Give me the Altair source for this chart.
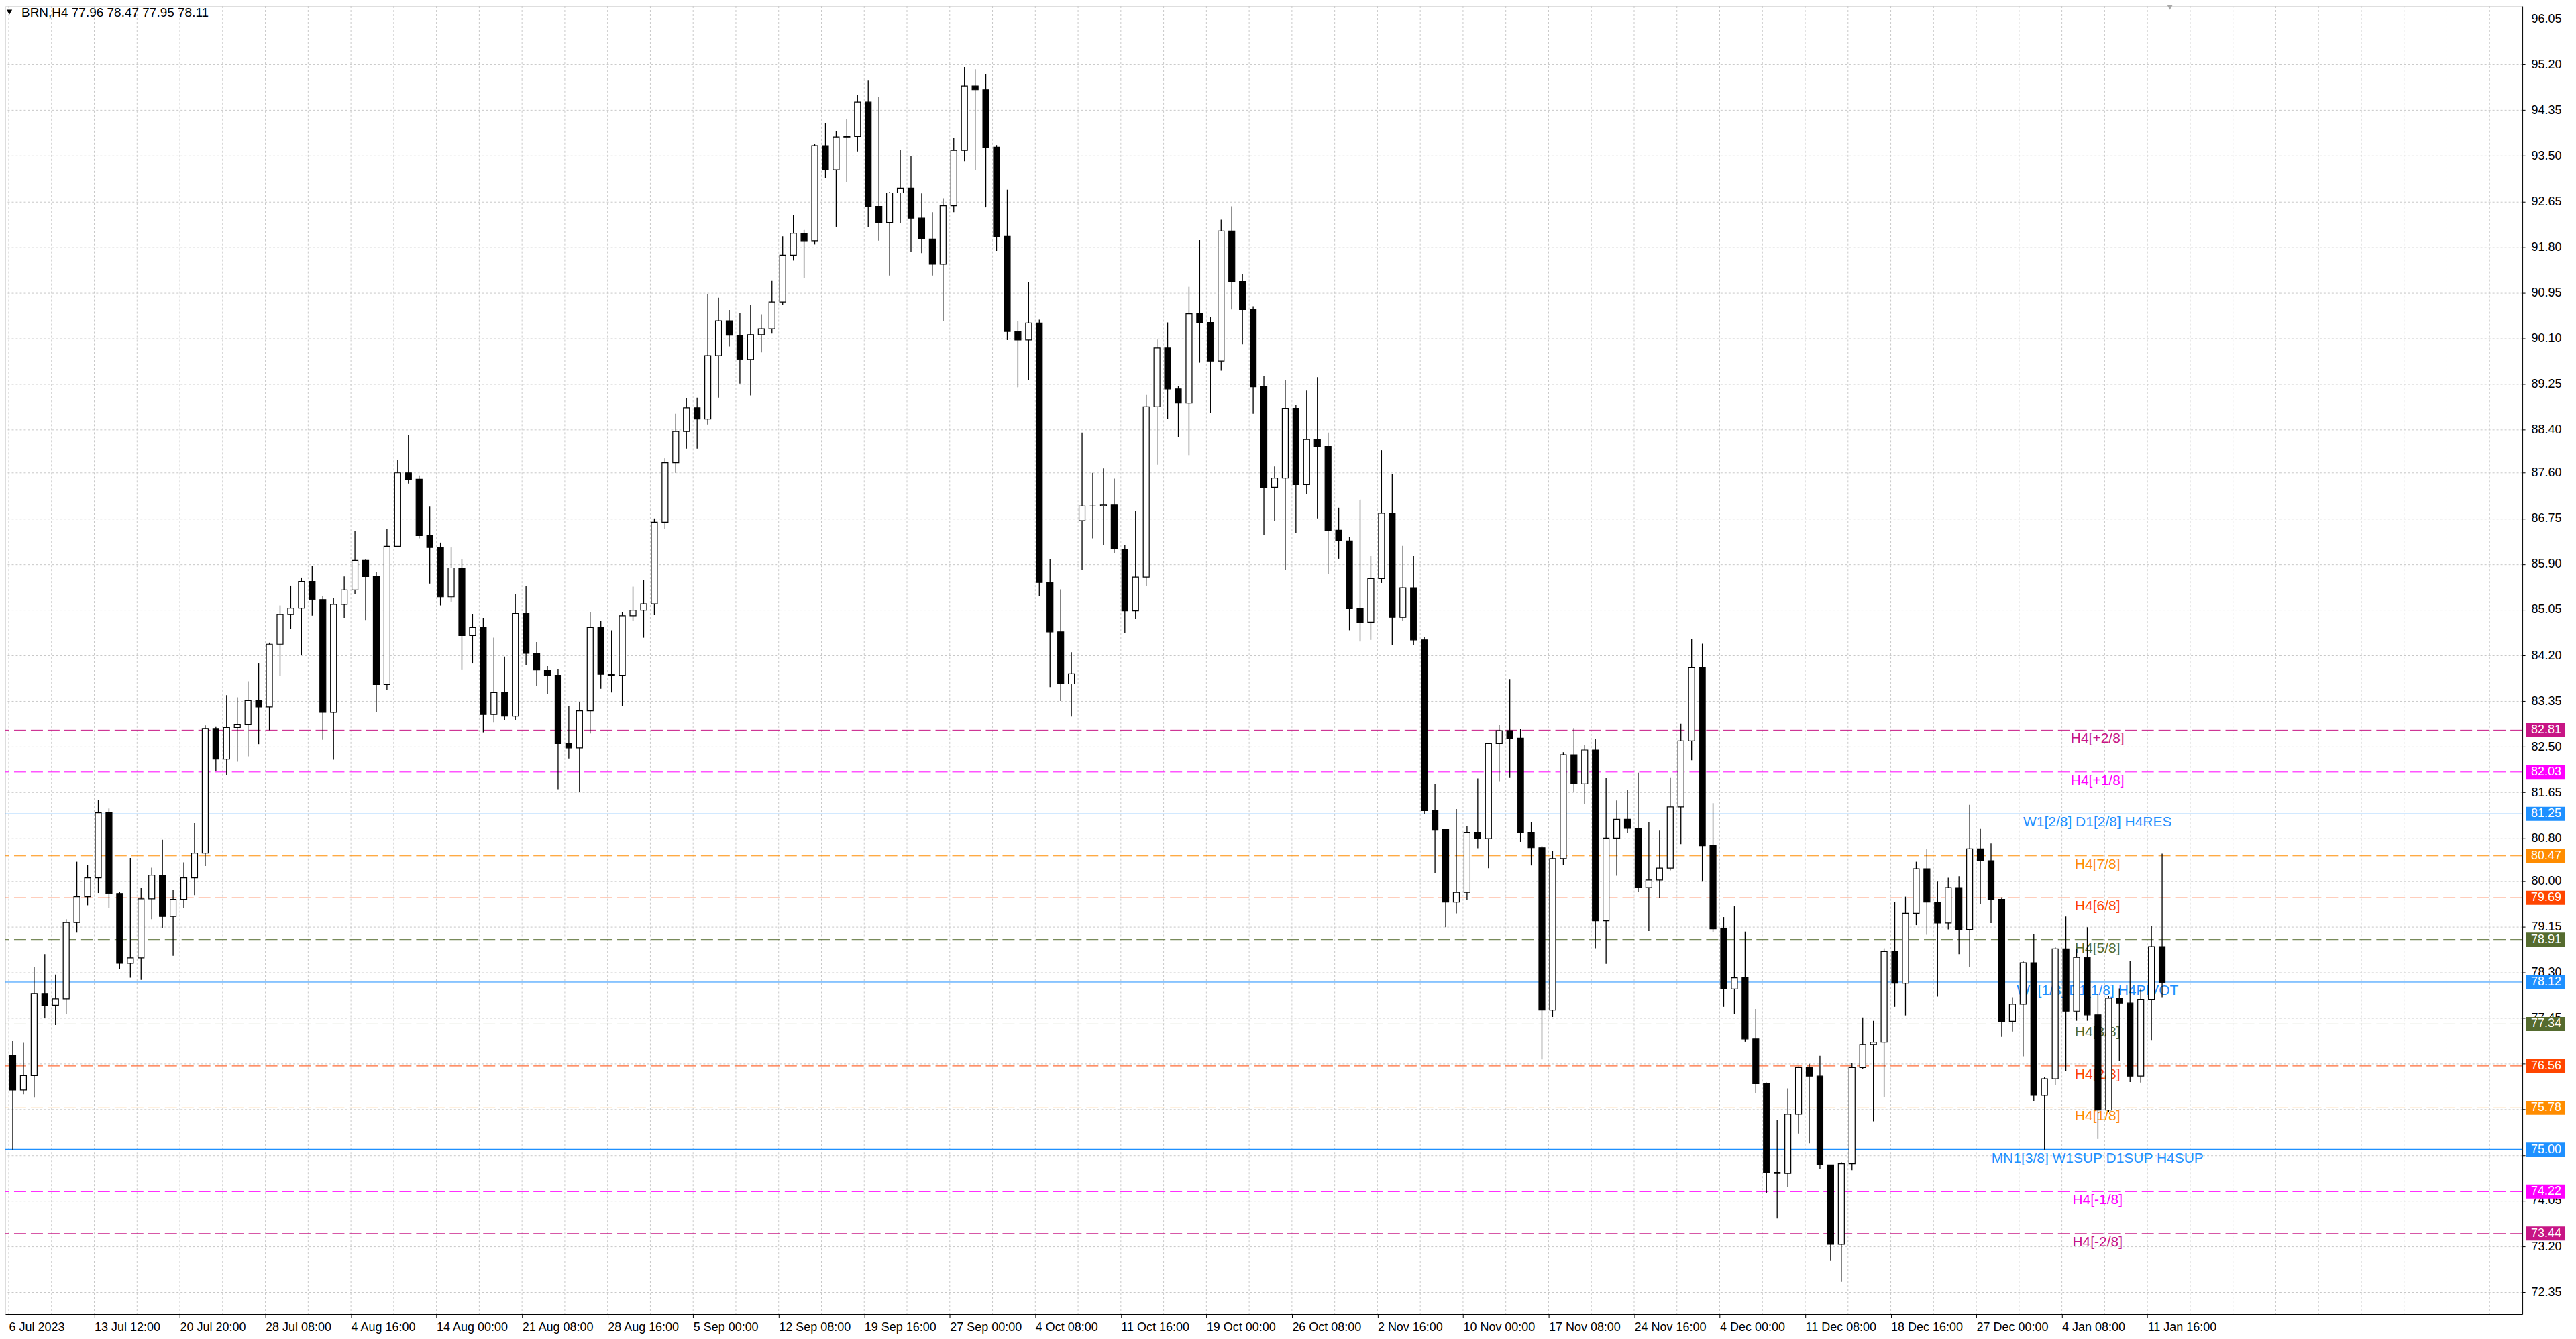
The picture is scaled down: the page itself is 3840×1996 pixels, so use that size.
import json
import altair as alt
import pandas as pd

# ---------------- data (one candle = 4 H4 bars) ----------------
opens = [76.75, 76.11, 76.38, 77.91, 77.69, 77.81, 79.23, 79.71, 80.06, 81.27,
         79.77, 78.47, 78.57, 79.67, 80.11, 79.34, 79.66, 80.06, 80.52, 82.84,
         82.27, 82.86, 82.92, 83.36, 83.24, 84.41, 84.96, 85.08, 85.58, 85.24,
         83.14, 85.15, 85.42, 85.97, 85.67, 83.66, 86.23, 87.60, 87.48, 86.43,
         86.21, 85.29, 85.83, 84.57, 84.72, 83.10, 83.51, 83.07, 84.98, 84.24,
         83.93, 83.83, 82.56, 82.48, 83.17, 84.72, 83.85, 83.83, 84.94, 85.04,
         85.16, 86.68, 87.79, 88.37, 88.81, 88.60, 89.78, 90.43, 90.16, 89.71,
         90.17, 90.28, 90.78, 91.65, 92.06, 91.92, 93.69, 93.24, 93.85, 93.86,
         94.50, 92.56, 92.26, 92.81, 92.90, 92.34, 91.95, 91.48, 92.57, 93.60,
         94.80, 94.73, 93.66, 92.00, 90.23, 90.07, 90.39, 85.56, 84.64, 83.67,
         86.71, 86.98, 86.98, 87.00, 86.18, 85.03, 85.66, 88.83, 89.92, 89.16,
         88.90, 90.56, 90.40, 89.68, 92.10, 91.16, 90.64, 89.20, 87.33, 87.50,
         88.80, 87.38, 88.22, 88.09, 86.53, 86.33, 85.07, 84.82, 85.63, 86.85,
         84.91, 85.46, 84.49, 81.31, 80.96, 79.61, 79.79, 80.91, 80.79, 82.56,
         82.80, 82.66, 80.91, 80.62, 77.60, 80.42, 82.35, 81.81, 82.44, 79.26,
         80.80, 81.15, 80.98, 79.88, 80.02, 80.24, 81.38, 82.61, 83.97, 80.66,
         79.11, 77.99, 78.20, 77.06, 76.23, 74.58, 74.56, 75.66, 76.53, 76.37,
         74.72, 73.24, 74.74, 76.53, 76.96, 77.00, 78.69, 78.10, 79.40, 80.23,
         79.61, 79.22, 79.88, 79.10, 80.60, 80.38, 79.66, 77.39, 77.71, 78.48,
         76.01, 76.32, 78.74, 77.58, 78.58, 77.51, 75.74, 77.82, 77.73, 76.37,
         77.80, 78.78]
highs = [77.02, 76.99, 78.40, 78.64, 78.26, 79.29, 80.36, 80.30, 81.51, 81.35,
         79.80, 80.43, 79.88, 80.25, 80.77, 79.83, 80.35, 81.08, 82.90, 82.88,
         83.46, 83.42, 83.72, 84.05, 84.44, 85.13, 85.50, 85.65, 85.86, 85.30,
         85.27, 85.67, 86.52, 86.00, 85.75, 86.55, 87.84, 88.30, 87.55, 86.97,
         86.30, 86.21, 86.00, 84.97, 84.90, 84.53, 84.18, 85.35, 85.50, 84.45,
         84.00, 83.95, 83.26, 83.34, 85.00, 84.85, 84.67, 85.00, 85.48, 85.61,
         86.75, 87.87, 88.70, 88.99, 89.00, 90.93, 90.86, 90.63, 90.57, 90.73,
         90.55, 91.17, 92.00, 92.40, 92.12, 93.72, 94.11, 93.96, 94.18, 94.63,
         94.91, 94.60, 92.83, 93.61, 93.50, 92.80, 92.45, 92.71, 93.83, 95.15,
         95.11, 95.02, 93.70, 92.87, 90.43, 91.15, 90.45, 86.00, 85.43, 84.26,
         88.35, 87.60, 87.68, 87.49, 86.25, 86.89, 89.05, 90.08, 90.40, 89.22,
         91.06, 91.93, 90.50, 92.31, 92.56, 91.30, 90.70, 89.40, 87.72, 89.32,
         88.87, 89.13, 89.38, 88.35, 86.95, 86.40, 87.10, 86.05, 88.02, 87.58,
         86.24, 86.05, 84.55, 81.81, 80.96, 81.34, 81.03, 81.91, 82.57, 82.91,
         83.76, 82.83, 81.10, 80.65, 80.56, 82.40, 82.85, 82.53, 82.65, 81.92,
         81.50, 81.70, 82.02, 81.10, 80.95, 81.93, 82.93, 84.50, 84.42, 81.45,
         79.33, 79.53, 79.06, 77.62, 76.25, 75.55, 76.14, 76.55, 76.60, 76.75,
         74.72, 74.77, 76.61, 77.46, 77.40, 78.75, 79.61, 79.71, 80.36, 80.60,
         79.99, 80.06, 80.09, 81.42, 80.97, 80.70, 79.70, 77.84, 78.52, 79.01,
         76.35, 78.78, 79.34, 78.74, 79.14, 77.90, 77.87, 78.00, 78.52, 78.00,
         79.16, 80.51]
lows = [75.00, 76.03, 75.97, 77.45, 77.32, 77.53, 79.04, 79.55, 79.78, 79.50,
        78.36, 78.20, 78.16, 79.29, 79.12, 78.61, 79.50, 79.74, 80.28, 82.05,
        81.97, 82.22, 82.32, 82.55, 82.81, 83.82, 84.70, 84.21, 84.94, 82.63,
        82.26, 84.90, 85.35, 84.86, 83.15, 83.55, 86.23, 87.40, 86.38, 85.54,
        85.13, 85.20, 83.94, 84.05, 82.77, 82.95, 83.00, 83.00, 84.02, 83.64,
        83.48, 81.71, 82.28, 81.66, 82.75, 83.58, 83.51, 83.26, 84.85, 84.53,
        84.95, 86.55, 87.60, 88.05, 88.05, 88.50, 89.00, 89.95, 89.26, 89.04,
        89.84, 90.19, 90.72, 91.55, 91.23, 91.85, 93.08, 92.18, 93.01, 93.58,
        92.18, 91.92, 91.27, 92.25, 91.71, 91.69, 91.27, 90.43, 92.45, 93.40,
        93.24, 92.54, 91.73, 90.07, 89.19, 89.32, 85.31, 83.61, 83.35, 83.06,
        85.79, 86.38, 86.25, 86.10, 84.62, 84.88, 85.50, 87.75, 88.60, 88.27,
        87.93, 89.65, 88.71, 89.50, 90.64, 89.99, 88.70, 86.44, 86.70, 85.79,
        86.48, 87.20, 86.75, 85.71, 86.00, 84.67, 84.46, 84.49, 85.55, 84.40,
        84.85, 84.40, 81.25, 80.15, 79.14, 79.40, 79.65, 80.61, 80.24, 81.86,
        81.93, 80.73, 80.29, 76.68, 77.47, 80.30, 81.66, 81.43, 78.75, 78.46,
        80.10, 80.90, 79.80, 79.07, 79.69, 80.20, 80.69, 82.25, 79.99, 79.05,
        77.66, 77.53, 77.01, 76.06, 74.19, 73.72, 74.30, 75.30, 75.12, 74.65,
        72.94, 72.54, 74.62, 76.50, 75.53, 75.98, 77.66, 77.50, 79.18, 79.00,
        77.85, 79.10, 78.64, 78.40, 79.57, 79.22, 77.10, 77.20, 76.74, 75.91,
        75.00, 76.20, 76.46, 77.40, 77.40, 75.20, 75.70, 76.65, 76.26, 76.25,
        77.03, 77.84]
closes = [76.11, 76.38, 77.91, 77.69, 77.81, 79.23, 79.71, 80.06, 81.27, 79.77,
          78.47, 78.57, 79.67, 80.11, 79.34, 79.66, 80.06, 80.52, 82.84, 82.27,
          82.86, 82.92, 83.36, 83.24, 84.41, 84.96, 85.08, 85.58, 85.24, 83.14,
          85.15, 85.42, 85.97, 85.67, 83.66, 86.23, 87.60, 87.48, 86.43, 86.21,
          85.29, 85.83, 84.57, 84.72, 83.10, 83.51, 83.07, 84.98, 84.24, 83.93,
          83.83, 82.56, 82.48, 83.17, 84.72, 83.85, 83.83, 84.94, 85.04, 85.16,
          86.68, 87.79, 88.37, 88.81, 88.60, 89.78, 90.43, 90.16, 89.71, 90.17,
          90.28, 90.78, 91.65, 92.06, 91.92, 93.69, 93.24, 93.85, 93.86, 94.50,
          92.56, 92.26, 92.81, 92.90, 92.34, 91.95, 91.48, 92.57, 93.60, 94.80,
          94.73, 93.66, 92.00, 90.23, 90.07, 90.39, 85.56, 84.64, 83.67, 83.86,
          86.98, 86.98, 87.00, 86.18, 85.03, 85.66, 88.83, 89.92, 89.16, 88.90,
          90.56, 90.40, 89.68, 92.10, 91.16, 90.64, 89.20, 87.33, 87.50, 88.80,
          87.38, 88.22, 88.09, 86.53, 86.33, 85.07, 84.82, 85.63, 86.85, 84.91,
          85.46, 84.49, 81.31, 80.96, 79.61, 79.79, 80.91, 80.79, 82.56, 82.80,
          82.66, 80.91, 80.62, 77.60, 80.42, 82.35, 81.81, 82.44, 79.26, 80.80,
          81.15, 80.98, 79.88, 80.02, 80.24, 81.38, 82.61, 83.97, 80.66, 79.11,
          77.99, 78.20, 77.06, 76.23, 74.58, 74.56, 75.66, 76.53, 76.37, 74.72,
          73.24, 74.74, 76.53, 76.96, 77.00, 78.69, 78.10, 79.40, 80.23, 79.61,
          79.22, 79.88, 79.10, 80.60, 80.38, 79.66, 77.39, 77.71, 78.48, 76.01,
          76.32, 78.74, 77.58, 78.58, 77.51, 75.74, 77.82, 77.73, 76.37, 77.80,
          78.78, 78.11]

date_labels = ["6 Jul 2023", "13 Jul 12:00", "20 Jul 20:00", "28 Jul 08:00", "4 Aug 16:00",
               "14 Aug 00:00", "21 Aug 08:00", "28 Aug 16:00", "5 Sep 00:00", "12 Sep 08:00",
               "19 Sep 16:00", "27 Sep 00:00", "4 Oct 08:00", "11 Oct 16:00", "19 Oct 00:00",
               "26 Oct 08:00", "2 Nov 16:00", "10 Nov 00:00", "17 Nov 08:00", "24 Nov 16:00",
               "4 Dec 00:00", "11 Dec 08:00", "18 Dec 16:00", "27 Dec 00:00", "4 Jan 08:00",
               "11 Jan 16:00"]

price_ticks = [96.05, 95.20, 94.35, 93.50, 92.65, 91.80, 90.95, 90.10, 89.25, 88.40,
               87.60, 86.75, 85.90, 85.05, 84.20, 83.35, 82.50, 81.65, 80.80, 80.00,
               79.15, 78.30, 77.45, 76.60, 75.75, 74.90, 74.05, 73.20, 72.35]
# price labels that the terminal hides behind the level price boxes
hidden_price_labels = [75.75, 74.90]

level_prices = [82.81, 82.03, 81.25, 80.47, 79.69, 78.91, 78.12, 77.34, 76.56, 75.78,
                75.00, 74.22, 73.44]
level_names = ["H4[+2/8]", "H4[+1/8]", "W1[2/8] D1[2/8] H4RES", "H4[7/8]", "H4[6/8]",
               "H4[5/8]", "W1[1/8] D1[1/8] H4PIVOT", "H4[3/8]", "H4[2/8]", "H4[1/8]",
               "MN1[3/8] W1SUP D1SUP H4SUP", "H4[-1/8]", "H4[-2/8]"]

symbol = "BRN,H4"
last_bar = [77.96, 78.47, 77.95, 78.11]

# ---------------- style ----------------
LEVEL_STYLE = {
    "H4[+2/8]": ("#C71585", "dash"),
    "H4[+1/8]": ("#FF00FF", "dash"),
    "W1[2/8] D1[2/8] H4RES": ("#1E90FF", "solid"),
    "H4[7/8]": ("#FF8C00", "dash"),
    "H4[6/8]": ("#FF4500", "dash"),
    "H4[5/8]": ("#556B2F", "dash"),
    "W1[1/8] D1[1/8] H4PIVOT": ("#1E90FF", "solid"),
    "H4[3/8]": ("#556B2F", "dash"),
    "H4[2/8]": ("#FF4500", "dash"),
    "H4[1/8]": ("#FF8C00", "dash"),
    "MN1[3/8] W1SUP D1SUP H4SUP": ("#1E90FF", "thick"),
    "H4[-1/8]": ("#FF00FF", "dash"),
    "H4[-2/8]": ("#C71585", "dash"),
}

FONT = "Liberation Sans"
W, H = 3756, 1952
BARS_PER_CANDLE = 4
X_DOMAIN = [0, 939]
Y_DOMAIN = [71.939, 96.287]
PX_PER_PRICE = H / (Y_DOMAIN[1] - Y_DOMAIN[0])
BOX_HALF = 10.5 / PX_PER_PRICE

xs = alt.Scale(domain=X_DOMAIN, nice=False, zero=False)
ys = alt.Scale(domain=Y_DOMAIN, nice=False, zero=False)

candles = pd.DataFrame({
    "pos": [BARS_PER_CANDLE * i + 1.5 for i in range(len(closes))],
    "open": opens, "high": highs, "low": lows, "close": closes,
})
candles["up"] = candles["close"] >= candles["open"]

levels = pd.DataFrame({"price": level_prices, "name": level_names})
levels["color"] = [LEVEL_STYLE[n][0] for n in level_names]
levels["kind"] = [LEVEL_STYLE[n][1] for n in level_names]
levels["top"] = levels["price"] + BOX_HALF
levels["bottom"] = levels["price"] - BOX_HALF

label_step = 32
tick_positions = [label_step * i for i in range(len(date_labels))]
x_label_expr = json.dumps(date_labels) + "[round(datum.value / %d)]" % label_step
y_label_expr = ("indexof(%s, round(datum.value * 100)) >= 0 ? '' : format(datum.value, '.2f')"
                % json.dumps([int(round(v * 100)) for v in hidden_price_labels]))

vgrid = pd.DataFrame({"pos": list(range(0, X_DOMAIN[1] + 1, 16))})

x_axis = alt.Axis(orient="bottom", values=tick_positions, labelExpr=x_label_expr,
                  labelAlign="left", labelBaseline="middle", labelPadding=15,
                  labelFont=FONT, labelFontSize=18, labelColor="black",
                  labelFlush=False, labelOverlap=False, labelBound=False,
                  tickSize=5, tickColor="black", domainColor="black", domainWidth=1,
                  grid=False, title=None)
y_axis = alt.Axis(orient="right", values=price_ticks, labelExpr=y_label_expr,
                  labelAlign="left", labelBaseline="middle", labelPadding=9,
                  labelFont=FONT, labelFontSize=18, labelColor="black",
                  labelFlush=False, labelOverlap=False, labelBound=False,
                  tickSize=4, tickColor="black", domainColor="black", domainWidth=1,
                  grid=True, gridColor="#C8C8C8", gridDash=[3, 3], gridWidth=1,
                  title=None)

def X(field):
    return alt.X(field, scale=xs, axis=x_axis)

def Y(field):
    return alt.Y(field, scale=ys, axis=y_axis)

grid_layer = alt.Chart(vgrid).mark_rule(color="#C8C8C8", strokeDash=[3, 3], strokeWidth=1).encode(
    x=X("pos:Q"))

def level_rules(kind, **kw):
    return alt.Chart(levels).transform_filter(alt.datum.kind == kind).mark_rule(**kw).encode(
        y=Y("price:Q"),
        color=alt.Color("color:N", scale=None))

dash_lines = level_rules("dash", strokeDash=[18, 7], strokeWidth=1)
solid_lines = level_rules("solid", strokeWidth=1)
thick_lines = level_rules("thick", strokeWidth=2)

level_text = alt.Chart(levels).mark_text(font=FONT, fontSize=21, align="center",
                                          baseline="top", dy=2).encode(
    x=alt.value(3122),
    y=Y("price:Q"),
    text="name:N",
    color=alt.Color("color:N", scale=None))

wicks = alt.Chart(candles).mark_rule(color="black", strokeWidth=1.3).encode(
    x=X("pos:Q"),
    y=Y("low:Q"),
    y2="high:Q")

bodies = alt.Chart(candles).mark_bar(size=9, stroke="black", strokeWidth=1.2).encode(
    x=X("pos:Q"),
    y=Y("open:Q"),
    y2="close:Q",
    fill=alt.condition("datum.up", alt.value("white"), alt.value("black")))

boxes = alt.Chart(levels).mark_rect().encode(
    x=alt.value(W + 5), x2=alt.value(W + 64),
    y=Y("top:Q"), y2="bottom:Q",
    color=alt.Color("color:N", scale=None))

box_text = alt.Chart(levels).mark_text(font=FONT, fontSize=18, align="left",
                                        baseline="middle", color="white").encode(
    x=alt.value(W + 13),
    y=Y("price:Q"),
    text=alt.Text("price:Q", format=".2f"))

title_df = pd.DataFrame({"t": [symbol + "  " + " ".join("%.2f" % v for v in last_bar)]})
title = alt.Chart(title_df).mark_text(font=FONT, fontSize=19, align="left",
                                       baseline="middle", color="black").encode(
    x=alt.value(24), y=alt.value(10), text="t:N")
title_tri = alt.Chart(title_df).mark_point(shape="triangle-down", filled=True, size=70,
                                            color="black", opacity=1).encode(
    x=alt.value(6), y=alt.value(9))
shift_tri = alt.Chart(title_df).mark_point(shape="triangle-down", filled=True, size=110,
                                            color="#A8A8A8", opacity=1).encode(
    x=alt.value(3230), y=alt.value(1))

chart = alt.layer(
    grid_layer, dash_lines, solid_lines, thick_lines, level_text,
    wicks, bodies, boxes, box_text, title, title_tri, shift_tri
).properties(
    width=W, height=H,
    autosize=alt.AutoSizeParams(type="none"),
    padding={"left": 0, "top": 0, "right": 72, "bottom": 30},
).configure_view(
    stroke="#9A9A9A", strokeWidth=1
).configure(background="white")

chart.save("out.html", embed_options={"renderer": "svg", "actions": False})
